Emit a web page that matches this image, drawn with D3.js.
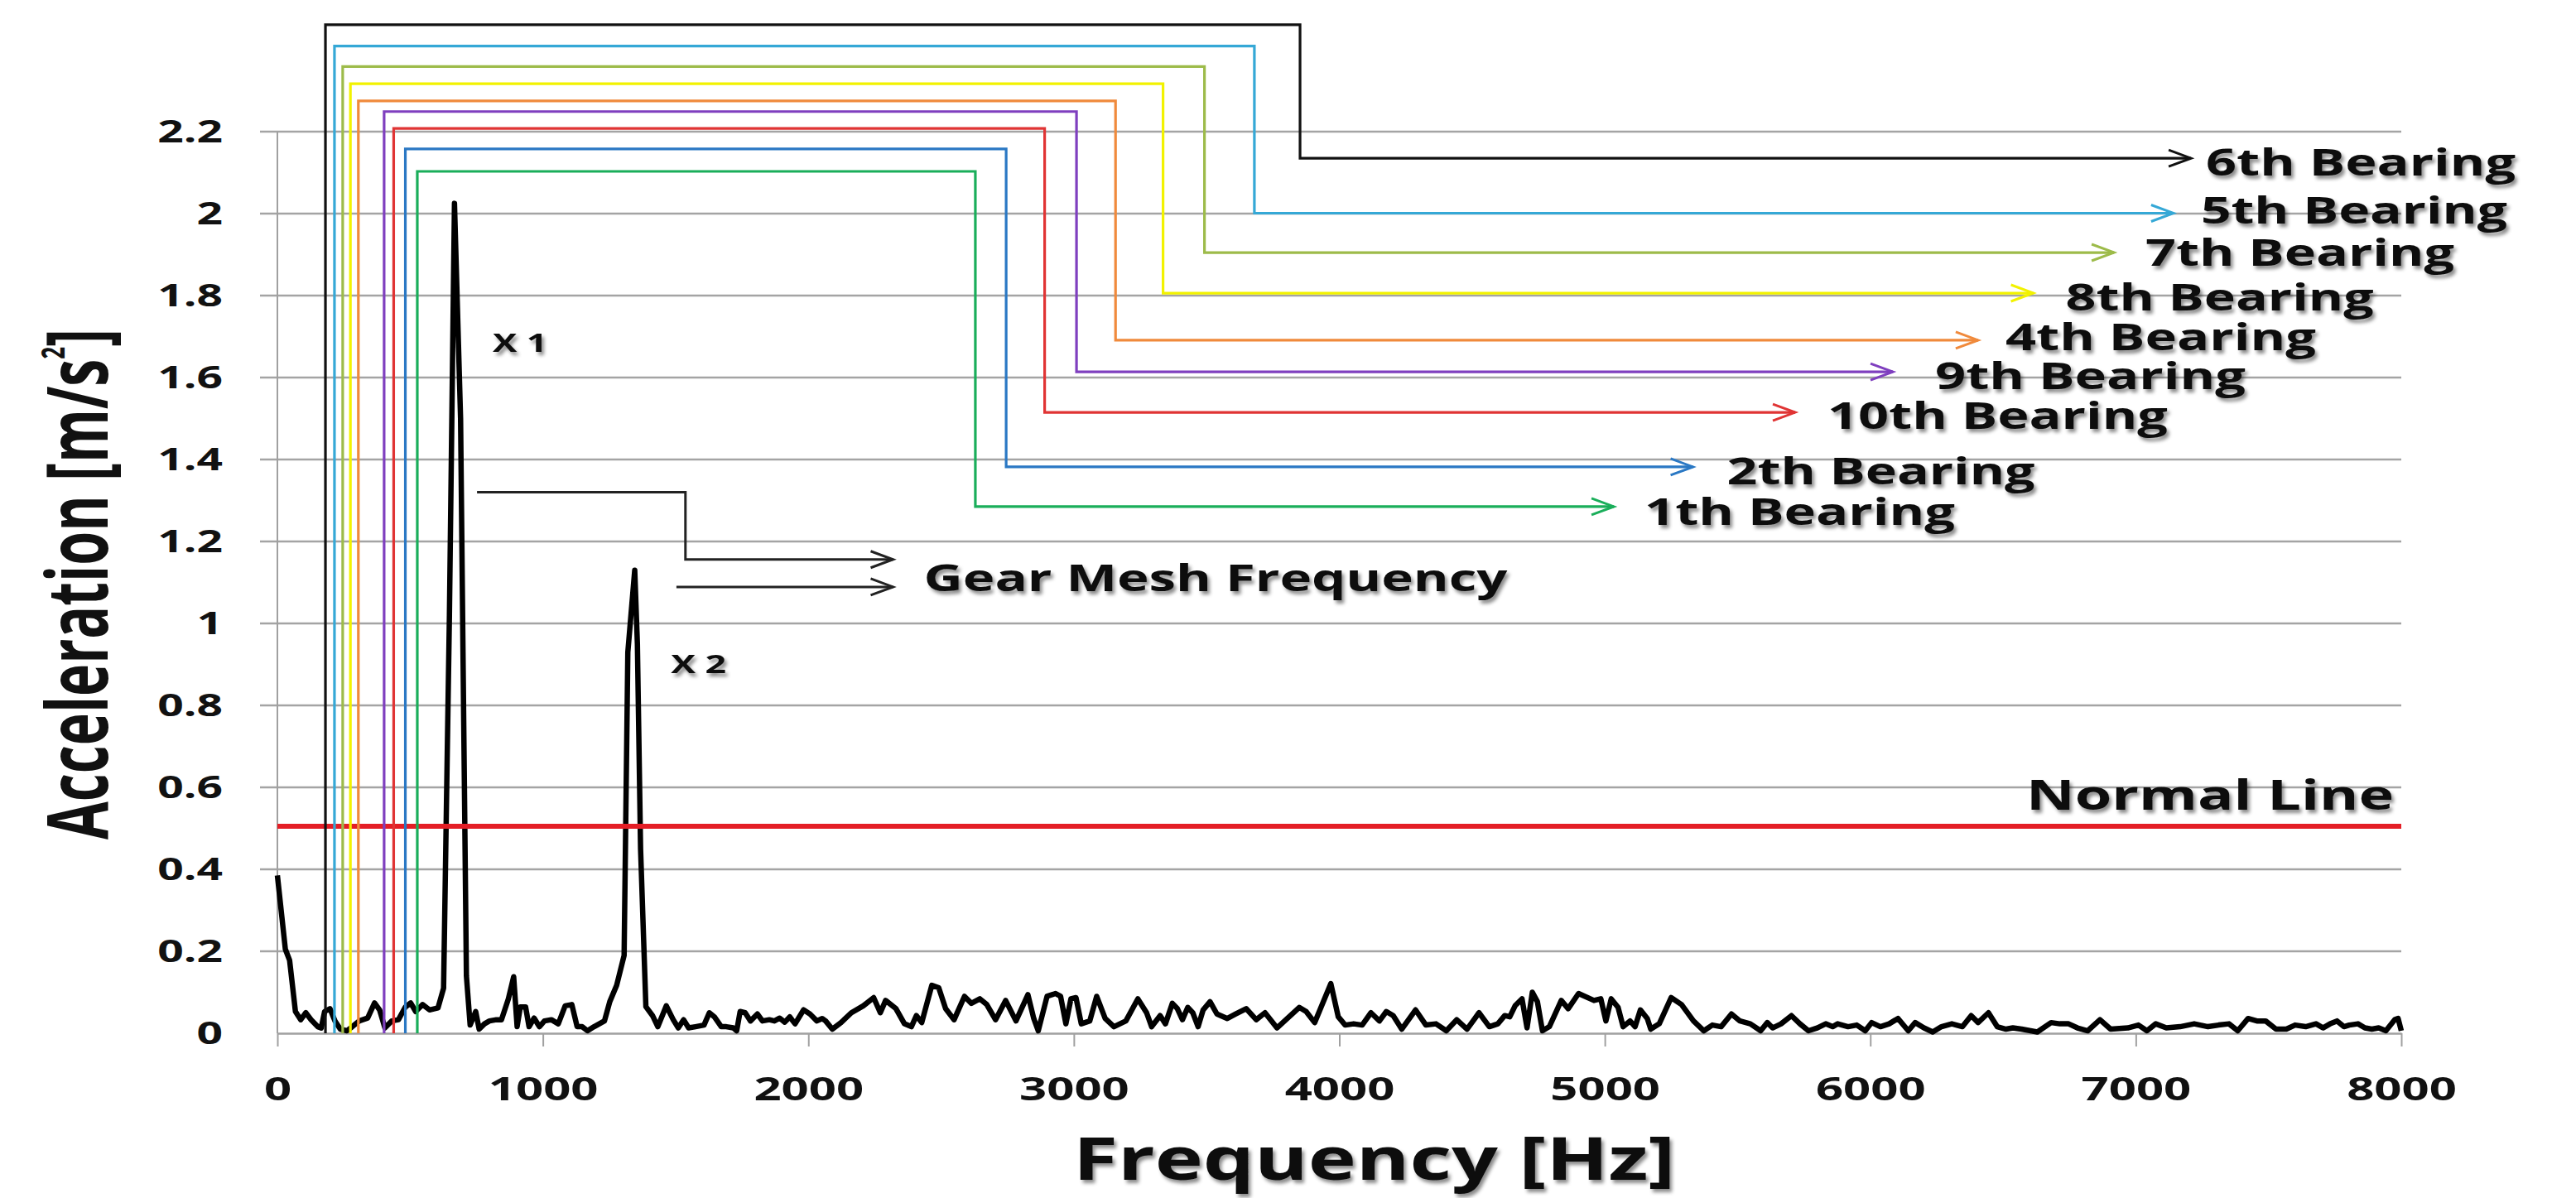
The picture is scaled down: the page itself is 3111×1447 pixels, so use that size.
<!DOCTYPE html>
<html lang="en">
<head>
<meta charset="UTF-8">
<title>Acceleration spectrum with bearing defect frequencies</title>
<style>
  body { margin: 0; background: #fff; }
  svg { display: block; font-family: "Open Sans", "Noto Sans", sans-serif; font-weight: 700; }
  .grid line { stroke: #a4a4a4; stroke-width: 2.5px; }
  .axis path, .axis line { stroke: #a0a0a0; }
  .axis text { fill: #111; }
  .spectrum { fill: none; stroke: #000; stroke-width: 6.5px; stroke-linejoin: round; }
  .bracket { fill: none; stroke-width: 3.2px; }
  .gear { fill: none; stroke: #222; stroke-width: 3px; }
  .label { fill: #111; }
</style>
</head>
<body>
<script src="https://d3js.org/d3.v7.min.js"></script>
<script>
// spectrum: [frequency Hz, acceleration m/s^2]
const spectrumLow = [
  [0,0.385],[30,0.205],[46,0.178],[68,0.053],[88,0.033],[107,0.050],[127,0.033],[152,0.016],
  [165,0.013],[178,0.053],[198,0.060],[217,0.030],[237,0.010],[262,0.006],[282,0.016],[308,0.030],
  [340,0.037],[366,0.074],[385,0.057],[405,0.013],[431,0.030],[456,0.033],[482,0.064],[502,0.074],
  [521,0.053],[547,0.070],[573,0.057],[605,0.062],
  [626,0.11],[648,1.02],[667,2.025],[690,1.5],[702,0.75],[712,0.14],[726,0.02],
  [747,0.053],[760,0.010],[780,0.023],[799,0.030],[825,0.033],[844,0.033],[870,0.084],[890,0.138],
  [903,0.016],[915,0.064],[935,0.064],[948,0.016],[967,0.037],[987,0.016],[1006,0.030],[1032,0.033],
  [1058,0.023],[1084,0.067],[1109,0.070],[1129,0.016],[1148,0.016],[1168,0.006],[1193,0.016],
  [1232,0.030],[1252,0.077],[1278,0.117],[1306,0.19],
  [1320,0.93],[1346,1.13],[1356,0.95],[1368,0.45],[1388,0.065]
];
const spectrumMid = [
  [1413,0.043],[1433,0.016],[1465,0.067],[1491,0.033],[1510,0.013],[1530,0.033],[1549,0.013],
  [1575,0.016],[1607,0.020],[1627,0.050],[1646,0.040],[1672,0.016],[1691,0.016],[1717,0.013],
  [1730,0.006],[1743,0.053],[1762,0.050],[1782,0.030],[1808,0.047],[1827,0.030],[1853,0.033],
  [1872,0.030],[1892,0.037],[1911,0.027],[1930,0.040],[1950,0.023],[1982,0.057],[2006,0.047],
  [2032,0.030],[2052,0.036],[2065,0.030],[2090,0.010],[2123,0.026],[2162,0.050],[2207,0.067],
  [2246,0.087],[2271,0.050],[2291,0.080],[2330,0.060],[2362,0.023],[2388,0.016],[2407,0.043],
  [2427,0.026],[2465,0.117],[2491,0.111],[2517,0.060],[2549,0.033],[2588,0.090],[2614,0.073],
  [2646,0.084],[2672,0.070],[2705,0.033],[2743,0.080],[2782,0.030],[2827,0.094],[2849,0.036],
  [2866,0.006],[2899,0.090],[2931,0.097],[2950,0.090],[2970,0.023],[2989,0.084],[3008,0.087],
  [3028,0.023],[3060,0.030],[3086,0.090],[3118,0.036],[3151,0.016],[3196,0.030],[3241,0.084],
  [3274,0.050],[3293,0.016],[3325,0.043],[3345,0.023],[3371,0.073],[3390,0.060],[3409,0.033],
  [3429,0.063],[3448,0.050],[3468,0.016],[3487,0.057],[3513,0.077],[3539,0.047],[3578,0.036],
  [3610,0.047],[3649,0.060],[3687,0.033],[3720,0.050],[3765,0.013],[3804,0.036],[3849,0.063],
  [3875,0.053],[3907,0.026],[3968,0.121]
];
const spectrumHigh = [
  [3996,0.040],[4022,0.020],[4054,0.023],[4086,0.020],[4119,0.050],[4151,0.030],[4177,0.053],
  [4203,0.043],[4235,0.010],[4287,0.057],[4326,0.020],[4364,0.023],[4403,0.006],[4442,0.033],
  [4481,0.010],[4526,0.050],[4565,0.016],[4597,0.023],[4623,0.043],[4642,0.040],[4662,0.067],
  [4688,0.084],[4707,0.013],[4727,0.100],[4746,0.077],[4765,0.006],[4791,0.016],[4836,0.080],
  [4862,0.060],[4901,0.097],[4959,0.080],[4985,0.084],[5004,0.030],[5024,0.084],[5050,0.063],
  [5069,0.016],[5095,0.030],[5114,0.016],[5134,0.057],[5160,0.036],[5173,0.010],[5205,0.023],
  [5250,0.087],[5289,0.070],[5334,0.030],[5373,0.006],[5405,0.020],[5438,0.016],[5477,0.047],
  [5509,0.030],[5548,0.023],[5587,0.006],[5612,0.026],[5632,0.013],[5664,0.023],[5703,0.043],
  [5735,0.023],[5767,0.006],[5800,0.013],[5832,0.023],[5858,0.016],[5877,0.023],[5916,0.016],
  [5949,0.020],[5981,0.006],[6005,0.026],[6038,0.016],[6071,0.023],[6104,0.036],[6143,0.006],
  [6169,0.026],[6202,0.013],[6235,0.003],[6268,0.016],[6307,0.023],[6347,0.016],[6380,0.043],
  [6406,0.026],[6445,0.050],[6478,0.016],[6511,0.010],[6537,0.013],[6570,0.010],[6629,0.003],
  [6681,0.026],[6714,0.023],[6747,0.023],[6780,0.013],[6819,0.006],[6865,0.033],[6905,0.010],
  [6970,0.013],[7010,0.020],[7042,0.006],[7075,0.023],[7115,0.013],[7167,0.016],[7220,0.023],
  [7272,0.016],[7312,0.020],[7351,0.023],[7384,0.006],[7423,0.036],[7456,0.030],[7489,0.030],
  [7528,0.010],[7567,0.010],[7600,0.020],[7640,0.016],[7679,0.023],[7705,0.013],[7732,0.023],
  [7758,0.030],[7784,0.016],[7804,0.020],[7837,0.023],[7863,0.013],[7889,0.010],[7915,0.013],
  [7942,0.006],[7975,0.033],[7988,0.036],[8000,0.006]
];

const xTicks = [0, 1000, 2000, 3000, 4000, 5000, 6000, 7000, 8000];
const yTicks = [0, 0.2, 0.4, 0.6, 0.8, 1, 1.2, 1.4, 1.6, 1.8, 2, 2.2];
const normalLevel = 0.505;

// bearing brackets, top to bottom of the label stack
const bearingNames  = ["6th Bearing", "5th Bearing", "7th Bearing", "8th Bearing", "4th Bearing",
                       "9th Bearing", "10th Bearing", "2th Bearing", "1th Bearing"];
const bearingFreq   = [181, 215, 246, 275, 305, 402, 438, 482, 527];        // Hz, vertical line
const bearingTop    = [2.461, 2.409, 2.359, 2.317, 2.275, 2.249, 2.208, 2.158, 2.103];
const bearingTurn   = [3852, 3680, 3492, 3336, 3157, 3010, 2890, 2745, 2629]; // Hz
const bearingLevel  = [2.135, 2.001, 1.905, 1.806, 1.691, 1.614, 1.515, 1.382, 1.285];
const bearingArrow  = [7208, 7142, 6918, 6614, 6406, 6085, 5717, 5332, 5034]; // Hz
const bearingColors = ["#111111", "#35a8d6", "#9dbb4a", "#f2f200", "#f08a3c",
                       "#7f3fbf", "#e03434", "#2a78c4", "#1aae5a"];
const labelGap      = [18, 33, 38, 39, 33, 51, 39, 41, 37];   // px after arrow tip
const labelDrop     = [21, 12, 16, 21, 12, 21, 20, 21, 22];   // px baseline below line
const labelWidth    = [374, 370, 373, 372, 375, 375, 411, 372, 375];

// gear mesh pointers [Hz, m/s^2]
const gearUpper = [[752, 1.320], [1537, 1.320], [1537, 1.156], [2319, 1.156]];
const gearLower = [[1503, 1.089], [2319, 1.089]];

const W = 3111, H = 1447;
const x = d3.scaleLinear().domain([0, 8000]).range([335, 2900]);
const y = d3.scaleLinear().domain([0, 2.2]).range([1248, 159]);

const svg = d3.select("body").append("svg")
  .attr("width", W).attr("height", H)
  .attr("viewBox", `0 0 ${W} ${H}`);

svg.append("rect").attr("width", W).attr("height", H).attr("fill", "#fff");

const defs = svg.append("defs");
const shadow = defs.append("filter").attr("id", "shadow")
  .attr("x", "-10%").attr("y", "-30%").attr("width", "130%").attr("height", "180%");
shadow.append("feDropShadow").attr("dx", 3).attr("dy", 4).attr("stdDeviation", 2.2)
  .attr("flood-color", "#000").attr("flood-opacity", 0.45);

const arrowColors = bearingColors.concat(["#222"]);
arrowColors.forEach((c, i) => {
  defs.append("marker").attr("id", "arrow" + i)
    .attr("viewBox", "-32 -14 36 28").attr("refX", 0).attr("refY", 0)
    .attr("markerUnits", "userSpaceOnUse")
    .attr("markerWidth", 36).attr("markerHeight", 28)
    .attr("orient", "auto").style("overflow", "visible")
    .append("path").attr("d", "M-27,-10L0,0L-27,10")
    .attr("fill", "none").attr("stroke", c).attr("stroke-width", 3);
});

// stretch text horizontally by a factor, like the squeezed original
function widen(sel, k) {
  sel.each(function () {
    const w = this.getComputedTextLength();
    d3.select(this).attr("textLength", w * k).attr("lengthAdjust", "spacingAndGlyphs");
  });
}
function fitWidth(sel, w) {
  sel.attr("textLength", w).attr("lengthAdjust", "spacingAndGlyphs");
}

// gridlines
svg.append("g").attr("class", "grid")
  .selectAll("line").data(yTicks.slice(1)).enter().append("line")
  .attr("x1", x(0) - 21).attr("x2", x(8000))
  .attr("y1", d => y(d)).attr("y2", d => y(d));

// y axis
const yAxis = svg.append("g").attr("class", "axis")
  .attr("transform", `translate(${x(0)},0)`)
  .call(d3.axisLeft(y).tickValues(yTicks).tickSize(0).tickPadding(66).tickFormat(d => String(d)))
  .attr("font-family", null).attr("font-size", null);
yAxis.select(".domain").remove();
yAxis.selectAll("text").attr("font-size", 38).call(widen, 1.45);
svg.append("line")
  .attr("x1", x(0)).attr("x2", x(0)).attr("y1", y(2.2)).attr("y2", y(0))
  .attr("stroke", "#a0a0a0").attr("stroke-width", 2);

// x axis
const xAxis = svg.append("g").attr("class", "axis")
  .attr("transform", `translate(0,${y(0)})`)
  .call(d3.axisBottom(x).tickValues(xTicks).tickSize(16).tickSizeOuter(0).tickPadding(37)
    .tickFormat(d3.format("d")))
  .attr("font-family", null).attr("font-size", null);
xAxis.select(".domain").attr("stroke-width", 2.5);
xAxis.selectAll(".tick line").attr("stroke-width", 2);
xAxis.selectAll("text").attr("font-size", 40).call(widen, 1.45);

// spectrum
const line = d3.line().x(d => x(d[0])).y(d => y(d[1]));
svg.append("path").attr("class", "spectrum")
  .datum(spectrumLow.concat(spectrumMid, spectrumHigh))
  .attr("d", line);

// normal line
svg.append("line")
  .attr("x1", x(0)).attr("x2", x(8000))
  .attr("y1", y(normalLevel)).attr("y2", y(normalLevel))
  .attr("stroke", "#e41e26").attr("stroke-width", 6);
svg.append("text").attr("class", "label")
  .attr("x", x(8000) - 9).attr("y", y(normalLevel) - 20)
  .attr("text-anchor", "end").attr("font-size", 51)
  .attr("filter", "url(#shadow)")
  .text("Normal Line").call(fitWidth, 444);

// bearing brackets
const brackets = bearingNames.map((name, i) => ({
  name, i,
  pts: [[bearingFreq[i], 0], [bearingFreq[i], bearingTop[i]], [bearingTurn[i], bearingTop[i]],
        [bearingTurn[i], bearingLevel[i]], [bearingArrow[i], bearingLevel[i]]]
}));
svg.append("g").selectAll("path").data(brackets.slice().reverse()).enter().append("path")
  .attr("class", "bracket")
  .attr("d", d => line(d.pts))
  .attr("stroke", d => bearingColors[d.i])
  .attr("stroke-width", d => d.i === 0 ? 4 : 3.2)
  .attr("marker-end", d => `url(#arrow${d.i})`);

svg.append("g").selectAll("text").data(brackets).enter().append("text")
  .attr("class", "label")
  .attr("x", d => x(bearingArrow[d.i]) + labelGap[d.i])
  .attr("y", d => y(bearingLevel[d.i]) + labelDrop[d.i])
  .attr("font-size", 44)
  .attr("filter", "url(#shadow)")
  .text(d => d.name)
  .each(function (d) { d3.select(this).call(fitWidth, labelWidth[d.i]); });

// gear mesh frequency pointers
const gearArrow = "url(#arrow" + (arrowColors.length - 1) + ")";
svg.append("path").attr("class", "gear").attr("d", line(gearUpper)).attr("marker-end", gearArrow);
svg.append("path").attr("class", "gear").attr("d", line(gearLower)).attr("marker-end", gearArrow);
svg.append("text").attr("class", "label")
  .attr("x", x(gearLower[1][0]) + 37).attr("y", y(gearLower[1][1]) + 5)
  .attr("font-size", 44).attr("filter", "url(#shadow)")
  .text("Gear Mesh Frequency").call(fitWidth, 705);

// harmonic markers
svg.append("text").attr("class", "label")
  .attr("x", x(811)).attr("y", y(1.663)).attr("font-size", 30)
  .attr("filter", "url(#shadow)")
  .text("X 1").call(fitWidth, 66);
svg.append("text").attr("class", "label")
  .attr("x", x(1482)).attr("y", y(0.879)).attr("font-size", 30)
  .attr("filter", "url(#shadow)")
  .text("X 2").call(fitWidth, 67);

// axis titles
svg.append("text").attr("class", "label")
  .attr("x", 1296).attr("y", 1425).attr("font-size", 72)
  .attr("filter", "url(#shadow)")
  .text("Frequency [Hz]").call(fitWidth, 727);

const yTitle = svg.append("text").attr("class", "label")
  .attr("transform", "translate(130,1014) rotate(-90)")
  .attr("font-size", 102);
yTitle.append("tspan").text("Acceleration [m/s");
yTitle.append("tspan").attr("font-size", 40).attr("dy", -52).text("2");
yTitle.append("tspan").attr("dy", 52).text("]");
yTitle.call(fitWidth, 617);
</script>
</body>
</html>
